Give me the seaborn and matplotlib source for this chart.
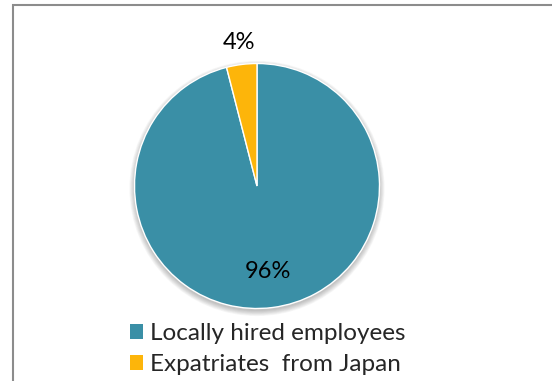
import numpy as np
import matplotlib
matplotlib.use("Agg")
import matplotlib.pyplot as plt
from matplotlib.patches import Patch, Circle
from matplotlib.lines import Line2D
import seaborn as sns

categories = ["Locally hired employees", "Expatriates  from Japan"]
shares = [96, 4]
pct_labels = ["96%", "4%"]
colors = ["#3A8FA6", "#FDB50A"]

sns.set_theme(style="white")
plt.rcParams["font.family"] = ["Lato", "DejaVu Sans"]

W, H = 552, 381
fig = plt.figure(figsize=(W / 100, H / 100), dpi=100)
fig.patch.set_facecolor("white")

# square axes holding the pie (radius 1 in data units)
cx, cy, r = 257, 186, 122.5
ax = fig.add_axes([(cx - r) / W, (H - cy - r) / H, 2 * r / W, 2 * r / H])
ax.set_xlim(-1, 1)
ax.set_ylim(-1, 1)
ax.set_aspect("equal")
ax.axis("off")

# soft drop shadow under the disc
for k in range(8):
    ax.add_patch(Circle((0.0, -0.02), 1.0 + 0.006 * k, color="black",
                        alpha=0.03, lw=0, zorder=0, clip_on=False))

wedges, _ = ax.pie(shares, colors=colors, startangle=90, counterclock=False,
                   radius=1.0, wedgeprops=dict(edgecolor="white", linewidth=1.0),
                   frame=False)
for w in wedges:
    w.set_zorder(2)
ax.set_xlim(-1, 1)
ax.set_ylim(-1, 1)

# percentage labels: inside for the big slice, outside for the small one
label_radius = [0.70, 1.18]
start = 90.0
for val, lab, rad in zip(shares, pct_labels, label_radius):
    sweep = 360.0 * val / sum(shares)
    mid = np.deg2rad(start - sweep / 2)
    start -= sweep
    ax.text(rad * np.cos(mid), rad * np.sin(mid), lab, ha="center", va="center",
            fontsize=17, color="black", zorder=5, clip_on=False)

handles = [Patch(facecolor=c, edgecolor="none") for c in colors]
fig.legend(handles, categories, loc="upper left",
           bbox_to_anchor=(130 / W, 1 - 323 / H), frameon=False,
           fontsize=17.5, handlelength=0.53, handleheight=0.53,
           handletextpad=0.3, labelspacing=0.42, borderpad=0, borderaxespad=0)

# partial grey frame (left and top edges)
fx = 12.5 / W
fy = 1 - 4.5 / H
fig.add_artist(Line2D([fx, fx, 1.0], [0.0, fy, fy], transform=fig.transFigure,
                      color="#8C8C8C", linewidth=1.5, solid_joinstyle="miter"))

fig.savefig("out.png", dpi=100, facecolor="white")
